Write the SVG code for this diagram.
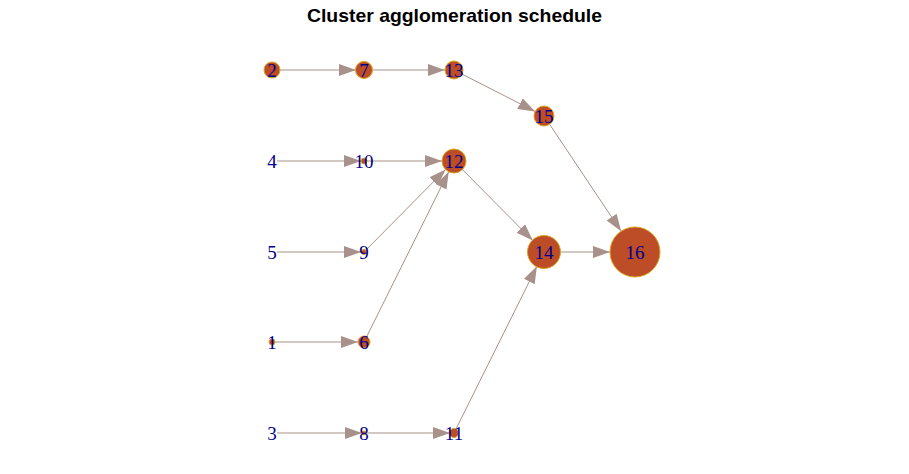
<svg xmlns="http://www.w3.org/2000/svg" width="909" height="474" viewBox="0 0 909 474">
<style>
.n{fill:#BD4D26;stroke:#DAA520;stroke-width:1}
.l{font-family:"Liberation Serif",serif;font-size:19px;fill:#00008B;text-anchor:middle}
.e{stroke:#A8918A;stroke-width:1;fill:none;marker-end:url(#a)}
.t{font-family:"Liberation Sans",Arial,sans-serif;font-size:19px;font-weight:bold;fill:#000;text-anchor:middle}
</style>
<defs>
<marker id="a" markerUnits="userSpaceOnUse" markerWidth="18" markerHeight="13" refX="17" refY="6" orient="auto">
<path d="M0,0 L17,6 L0,12 z" fill="#A8918A"/>
</marker>
</defs>
<rect width="909" height="474" fill="#fff"/>
<text class="t" x="454.5" y="22" textLength="295" lengthAdjust="spacingAndGlyphs">Cluster agglomeration schedule</text>
<g id="edges">
<line class="e" x1="280" y1="70" x2="356" y2="70"/>
<line class="e" x1="373" y1="70" x2="445" y2="70"/>
<line class="e" x1="462" y1="74.1" x2="535.1" y2="111.4"/>
<line class="e" x1="549.6" y1="124.3" x2="621.1" y2="231.2"/>
<line class="e" x1="277" y1="161" x2="361" y2="161"/>
<line class="e" x1="367" y1="161" x2="442" y2="161"/>
<line class="e" x1="277" y1="252" x2="361" y2="252"/>
<line class="e" x1="366.1" y1="249.9" x2="445.6" y2="169.5"/>
<line class="e" x1="275" y1="342" x2="358" y2="342"/>
<line class="e" x1="366.7" y1="336.6" x2="448.7" y2="171.7"/>
<line class="e" x1="462.4" y1="169.5" x2="532.8" y2="240.6"/>
<line class="e" x1="277" y1="433" x2="362" y2="433"/>
<line class="e" x1="366" y1="433" x2="450" y2="433"/>
<line class="e" x1="455.8" y1="429.4" x2="536.9" y2="266.3"/>
<line class="e" x1="561" y1="252" x2="610" y2="252"/>
</g>
<g id="n2"><circle class="n" cx="272" cy="70" r="8"/><text class="l" x="272" y="77">2</text></g>
<g id="n7"><circle class="n" cx="364" cy="70" r="8.5"/><text class="l" x="364" y="77">7</text></g>
<g id="n13"><circle class="n" cx="454" cy="70" r="9"/><text class="l" x="454" y="77">13</text></g>
<g id="n15"><circle class="n" cx="544" cy="116" r="10"/><text class="l" x="544" y="123">15</text></g>
<g id="n16"><circle class="n" cx="635" cy="252" r="25"/><text class="l" x="635" y="259">16</text></g>
<g id="n4"><text class="l" x="272" y="168">4</text></g>
<g id="n10"><circle class="n" cx="364" cy="161" r="3"/><text class="l" x="364" y="168">10</text></g>
<g id="n12"><circle class="n" cx="454" cy="161" r="12"/><text class="l" x="454" y="168">12</text></g>
<g id="n5"><text class="l" x="272" y="259">5</text></g>
<g id="n9"><circle class="n" cx="364" cy="252" r="2.5"/><text class="l" x="364" y="259">9</text></g>
<g id="n14"><circle class="n" cx="544" cy="252" r="16.5"/><text class="l" x="544" y="259">14</text></g>
<g id="n1"><circle class="n" cx="272" cy="342" r="3"/><text class="l" x="272" y="349">1</text></g>
<g id="n6"><circle class="n" cx="364" cy="342" r="6"/><text class="l" x="364" y="349">6</text></g>
<g id="n3"><text class="l" x="272" y="440">3</text></g>
<g id="n8"><circle class="n" cx="364" cy="433" r="2"/><text class="l" x="364" y="440">8</text></g>
<g id="n11"><circle class="n" cx="454" cy="433" r="4.5"/><text class="l" x="454" y="440">11</text></g>
</svg>
